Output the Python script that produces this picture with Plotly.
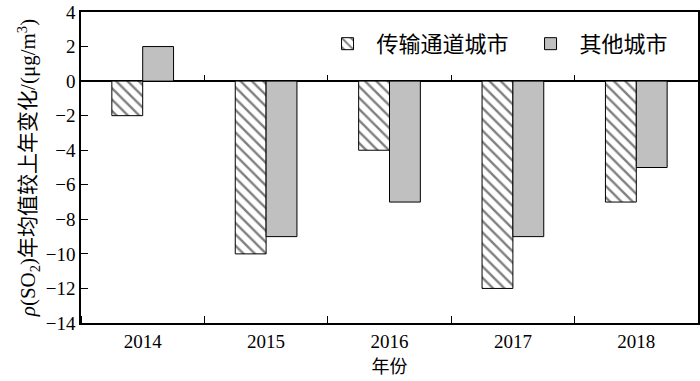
import plotly.graph_objects as go

years = [2014, 2015, 2016, 2017, 2018]
year_labels = ["2014", "2015", "2016", "2017", "2018"]
transport_cities = [-2, -10, -4, -12, -7]
other_cities = [2, -9, -7, -9, -5]
y_ticks = [4, 2, 0, -2, -4, -6, -8, -10, -12, -14]
y_tick_text = ["4", "2", "0", "−2", "−4", "−6", "−8", "−10", "−12", "−14"]

serif = "Liberation Serif, Times New Roman, Noto Sans CJK SC"
x_range = [years[0] - 0.5, years[-1] + 0.5]
y_range = [-14, 4]
boundaries = [y + 0.5 for y in years[:-1]]
zero_frac = (0 - y_range[0]) / (y_range[1] - y_range[0])

fig = go.Figure()
fig.add_trace(go.Bar(
    name="传输通道城市", x=years, y=transport_cities,
    marker=dict(color="white", line=dict(color="black", width=1),
                pattern=dict(shape="\\", fgcolor="black", bgcolor="white", size=8, solidity=0.3)),
))
fig.add_trace(go.Bar(
    name="其他城市", x=years, y=other_cities,
    marker=dict(color="#c0c0c0", line=dict(color="black", width=1),
                pattern=dict(shape="")),
))
# invisible helper trace so the zero-line tick axis renders
fig.add_trace(go.Scatter(x=years, y=[0]*len(years), xaxis="x2", yaxis="y2", mode="markers",
                         marker=dict(opacity=0), showlegend=False, hoverinfo="skip"))

fig.update_layout(
    width=700, height=381,
    margin=dict(l=81, r=2, t=12, b=58, autoexpand=False),
    plot_bgcolor="rgba(0,0,0,0)", paper_bgcolor="white",
    barmode="group", bargap=0.5, bargroupgap=0,
    font=dict(family=serif, size=18, color="black"),
    legend=dict(orientation="h", x=0.385, y=0.965, xanchor="left", yanchor="top",
                font=dict(family="Noto Sans CJK SC", size=22), bgcolor="rgba(0,0,0,0)",
                traceorder="normal", itemwidth=48, entrywidth=140, entrywidthmode="pixels"),
    xaxis=dict(
        range=x_range, tickvals=years, ticktext=year_labels,
        showline=True, mirror=True, linecolor="black", linewidth=1.5,
        ticks="", showgrid=False, zeroline=False,
        minor=dict(tick0=years[0] + 0.5, dtick=1, ticks="inside", ticklen=7,
                   tickcolor="black", tickwidth=1, showgrid=False),
        title=dict(text="年份", font=dict(family="Noto Sans CJK SC", size=18), standoff=6),
        tickfont=dict(family=serif, size=19),
    ),
    xaxis2=dict(
        range=x_range, anchor="y2", side="bottom",
        showline=False, showticklabels=False, tickvals=boundaries,
        ticks="inside", ticklen=6, tickcolor="black", tickwidth=1.2,
        showgrid=False, zeroline=False,
    ),
    yaxis2=dict(
        domain=[zero_frac, 1], range=[0, 1], visible=False, showgrid=False, zeroline=False,
    ),
    yaxis=dict(
        range=y_range, tickvals=y_ticks, ticktext=y_tick_text,
        showline=True, mirror=True, linecolor="black", linewidth=1.5,
        ticks="inside", ticklen=7, tickcolor="black", showgrid=False,
        zeroline=True, zerolinecolor="black", zerolinewidth=1.5,
        tickfont=dict(family=serif, size=19),
        title=dict(text="<i>ρ</i>(SO<sub>2</sub>)年均值较上年变化/(μg/m<sup>3</sup>)",
                   font=dict(family="Liberation Serif, Noto Sans CJK SC", size=21), standoff=4),
    ),
)

fig.write_html("out.html")
